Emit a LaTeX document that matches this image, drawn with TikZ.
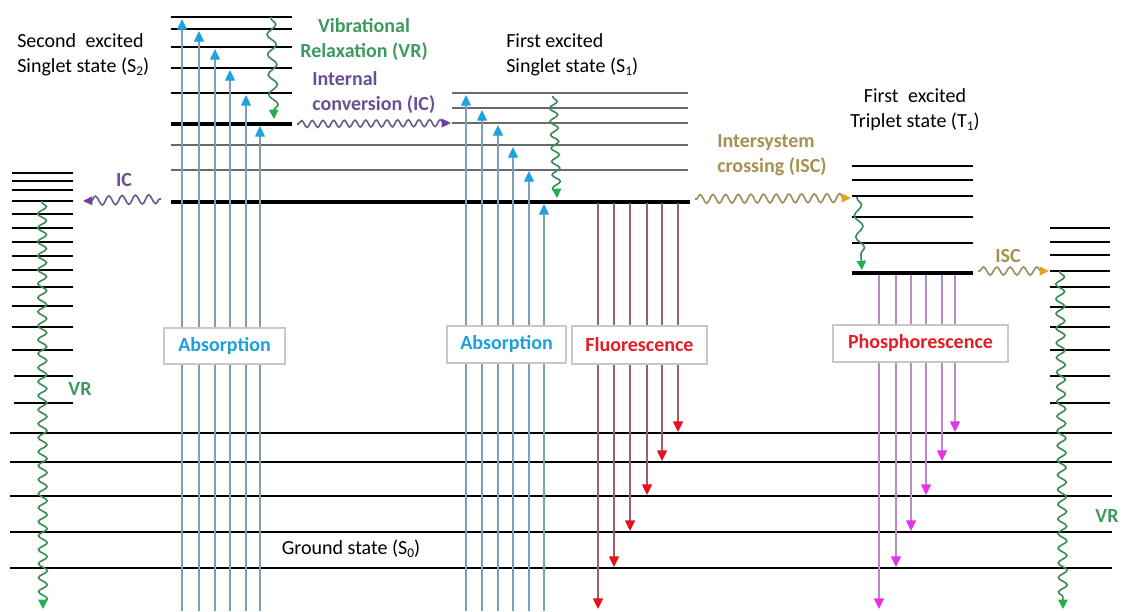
\documentclass[tikz,border=0pt]{standalone}
\usepackage{fontspec}
\setmainfont{Carlito}
\usetikzlibrary{arrows.meta,decorations.pathmorphing}
\definecolor{absline}{HTML}{7F9DB5}
\definecolor{abshead}{HTML}{1EA3E0}
\definecolor{absText}{HTML}{1AA0DC}
\definecolor{fluline}{HTML}{A0605C}
\definecolor{fluhead}{HTML}{E8101A}
\definecolor{pholine}{HTML}{B58CC8}
\definecolor{phohead}{HTML}{E632E6}
\definecolor{vrline}{HTML}{3A8A5A}
\definecolor{vrhead}{HTML}{20B050}
\definecolor{vrtext}{HTML}{3D9A5E}
\definecolor{icline}{HTML}{6A5A8A}
\definecolor{ichead}{HTML}{7040A0}
\definecolor{ictext}{HTML}{6B4F96}
\definecolor{iscline}{HTML}{9A8E5E}
\definecolor{ischead}{HTML}{E0A820}
\definecolor{isctext}{HTML}{A89050}
\definecolor{redtext}{HTML}{E51C23}
\definecolor{boxline}{HTML}{C8C8C8}
\definecolor{thinlvl}{HTML}{6A6A6A}
\newcommand\mysub[1]{\raisebox{-0.35ex}{\fontsize{10}{10}\selectfont #1}}
\begin{document}
\begin{tikzpicture}[x=0.75pt,y=-0.75pt,font=\fontsize{15}{18.5}\selectfont,
  lvl/.style={line width=1.5pt,black},
  thk/.style={line width=3pt,black},
  thinl/.style={line width=0.9pt,thinlvl},
  gnd/.style={line width=1.8pt,black},
  absarrow/.style={line width=1pt,absline,-{Triangle[length=8pt,width=7.5pt,color=abshead]}},
  fluarrow/.style={line width=1pt,fluline,-{Triangle[length=8pt,width=7.5pt,color=fluhead]}},
  phoarrow/.style={line width=1pt,pholine,-{Triangle[length=8pt,width=7.5pt,color=phohead]}},
  wig/.style={decorate,decoration={snake,amplitude=2.8pt,segment length=9pt,post length=4pt,pre length=1pt},line width=1.2pt},
  vrwig/.style={wig,vrline,-{Triangle[length=7pt,width=7pt,color=vrhead]}},
  icwig/.style={wig,icline,-{Triangle[length=7pt,width=6.5pt,color=ichead]}},
  iscwig/.style={wig,iscline,-{Triangle[length=7pt,width=6.5pt,color=ischead]}},
  labelbox/.style={draw=boxline,line width=0.8pt,fill=white,inner sep=0pt,font=\fontsize{15}{18}\selectfont\bfseries},
  lbl/.style={inner sep=0pt,align=left}
]
\useasboundingbox (0,0) rectangle (1121,611);

% ---- left column (S0 vibrational levels reached by IC)
\foreach \y in {173,181,190,201,214,228,242,256,270,287,306,327,350}
  \draw[lvl] (12,\y) -- (73,\y);
\foreach \y in {376,403}
  \draw[lvl] (14,\y) -- (73,\y);

% ---- ground state levels
\foreach \y in {433,462,496,532,568}
  \draw[gnd] (10,\y) -- (1112,\y);

% ---- S2 levels
\foreach \y in {17,29,47,68,93}
  \draw[lvl] (171,\y) -- (292,\y);
\draw[thk] (171,124) -- (292,124);
\foreach \y in {145,170}
  \draw[thinl] (171,\y) -- (688,\y);
\draw[thk] (171,202) -- (690,202);

% ---- S1 levels
\foreach \y in {93,108,123}
  \draw[thinl] (452,\y) -- (688,\y);

% ---- T1 levels
\foreach \y in {166,180,196,217,243}
  \draw[lvl] (852,\y) -- (973,\y);
\draw[thk] (852,273) -- (973,273);

% ---- right column levels
\foreach \y in {228,242,255,271,287,307,327,350,376,403}
  \draw[lvl] (1050,\y) -- (1110,\y);

% ---- absorption arrows
\foreach \x/\y in {182/19,199/31,215/49,230/70,246/95,260/126}
  \draw[absarrow] (\x,611) -- (\x,\y);
\foreach \x/\y in {466/95,482/110,498/125,513/147,529/171,544/204}
  \draw[absarrow] (\x,611) -- (\x,\y);

% ---- fluorescence arrows
\foreach \x/\y in {598/609,614/567,630/531,647/495,662/461,678/432}
  \draw[fluarrow] (\x,203) -- (\x,\y);

% ---- phosphorescence arrows
\foreach \x/\y in {879/609,896/567,911/531,926/495,942/461,955/432}
  \draw[phoarrow] (\x,275) -- (\x,\y);

% ---- vibrational relaxation
\coordinate (vr2a) at (271,17);  \coordinate (vr2b) at (274,119);
\coordinate (vr1a) at (553,96);  \coordinate (vr1b) at (557,198);
\coordinate (vrta) at (857,197); \coordinate (vrtb) at (862,270);
\coordinate (vrla) at (42,201);  \coordinate (vrlb) at (43,609);
\coordinate (vrra) at (1060,271); \coordinate (vrrb) at (1063,609);
\draw[vrwig,decoration={amplitude=3.4pt,segment length=15pt}] (vr2a) -- (vr2b);
\draw[vrwig,decoration={amplitude=3pt,segment length=10pt}] (vr1a) -- (vr1b);
\draw[vrwig,decoration={amplitude=3pt,segment length=16pt}] (vrta) -- (vrtb);
\draw[vrwig,decoration={amplitude=3.3pt,segment length=10.5pt}] (vrla) -- (vrlb);
\draw[vrwig,decoration={amplitude=3.3pt,segment length=11pt}] (vrra) -- (vrrb);

% ---- internal conversion
\coordinate (ic1a) at (297,124); \coordinate (ic1b) at (451,123);
\coordinate (ic2a) at (161,199); \coordinate (ic2b) at (83,201);
\draw[icwig,decoration={amplitude=2.6pt,segment length=8pt}] (ic1a) -- (ic1b);
\draw[icwig,decoration={amplitude=3.4pt,segment length=10pt}] (ic2a) -- (ic2b);

% ---- intersystem crossing
\coordinate (is1a) at (695,199); \coordinate (is1b) at (851,198);
\coordinate (is2a) at (978,271); \coordinate (is2b) at (1049,271);
\draw[iscwig,decoration={amplitude=3.3pt,segment length=9.5pt}] (is1a) -- (is1b);
\draw[iscwig,decoration={amplitude=3pt,segment length=10pt}] (is2a) -- (is2b);

% ---- boxes
\node[labelbox,minimum width=90.75pt,minimum height=27pt,text=absText] (abs1) at (224.5,346) {Absorption};
\node[labelbox,minimum width=89.25pt,minimum height=27.75pt,text=absText] (abs2) at (506.5,344.5) {Absorption};
\node[labelbox,minimum width=101.25pt,minimum height=28.5pt,text=redtext] (flu) at (639.5,345) {Fluorescence};
\node[labelbox,minimum width=131.25pt,minimum height=27.75pt,text=redtext] (pho) at (920.5,343.5) {Phosphorescence};

% ---- texts
\node[lbl,anchor=west] (s2) at (17,55) {Second\hspace{0.25em} excited\\Singlet state (S\mysub{2})};
\node[lbl,anchor=west] (s1) at (506,54.5) {First excited\\Singlet state (S\mysub{1})};
\node[lbl,align=center] (t1) at (915,110) {First\hspace{0.25em} excited\\Triplet state (T\mysub{1})};
\node[lbl,align=center,text=vrtext,font=\fontsize{15}{18.5}\selectfont\bfseries] (vrl) at (364,39.5) {Vibrational\\Relaxation (VR)};
\node[lbl,anchor=west,text=ictext,font=\fontsize{15}{18.5}\selectfont\bfseries] (icl) at (312,92.5) {Internal\\conversion (IC)};
\node[lbl,anchor=west,text=isctext,font=\fontsize{15}{18.5}\selectfont\bfseries] (iscl) at (717,155.5) {Intersystem\\crossing (ISC)};
\node[lbl,text=ictext,font=\fontsize{15}{18}\selectfont\bfseries] (ic2l) at (124,180) {IC};
\node[lbl,text=isctext,font=\fontsize{15}{18}\selectfont\bfseries] (isc2l) at (1008,256) {ISC};
\node[lbl,text=vrtext,font=\fontsize{15}{18}\selectfont\bfseries] (vrll) at (80,389) {VR};
\node[lbl,text=vrtext,font=\fontsize{15}{18}\selectfont\bfseries] (vrrl) at (1107,516) {VR};
\node[lbl] (gs) at (351,549) {Ground state (S\mysub{0})};
\end{tikzpicture}
\end{document}
